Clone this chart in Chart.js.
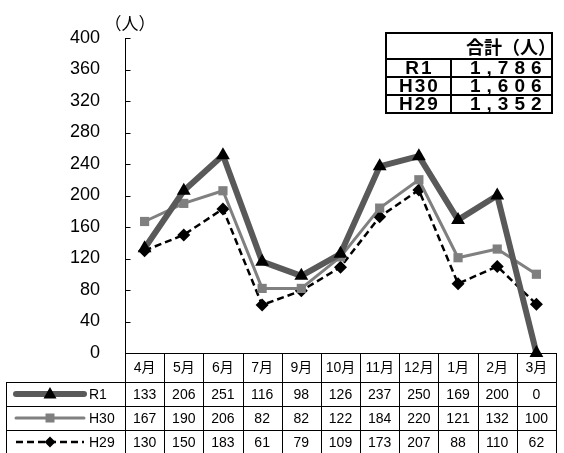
<!DOCTYPE html>
<html>
<head>
<meta charset="utf-8">
<script src="https://cdn.jsdelivr.net/npm/chart.js"></script>
<style>
  body { margin: 0; background: #fff; }
  #wrap { width: 564px; height: 453px; position: relative; }
</style>
</head>
<body>
<div id="wrap"><canvas id="chart"></canvas></div>
<script>
const months = ['4月', '5月', '6月', '7月', '9月', '10月', '11月', '12月', '1月', '2月', '3月']
const r1 = [133, 206, 251, 116, 98, 126, 237, 250, 169, 200, 0]
const h30 = [167, 190, 206, 82, 82, 122, 184, 220, 121, 132, 100]
const h29 = [130, 150, 183, 61, 79, 109, 173, 207, 88, 110, 62]
const yMin = 0
const yMax = 400
const yStep = 40
const unitLabel = '（人）'
const totalHeader = '合計（人）'
const totalNames = ['R1', 'H30', 'H29']
const totalValues = ['1,786', '1,606', '1,352']

const LATIN = "'Liberation Sans', Arial, 'Noto Sans CJK JP', sans-serif"
const CJK = "'Noto Sans CJK JP', 'Liberation Sans', sans-serif"

const series = [
  { label: 'R1', data: r1, color: '#595959', width: 6, dash: [], marker: 'triangle', markerColor: '#000000' },
  { label: 'H30', data: h30, color: '#808080', width: 3, dash: [], marker: 'rect', markerColor: '#7f7f7f' },
  { label: 'H29', data: h29, color: '#000000', width: 2.5, dash: [7, 4], marker: 'rectRot', markerColor: '#000000' },
]
const markerRadius = { triangle: 8, rect: 6.5, rectRot: 6.5 }

function drawMarker(ctx, style, x, y, color) {
  ctx.save()
  ctx.fillStyle = color
  ctx.beginPath()
  if (style === 'triangle') {
    ctx.moveTo(x, y - 7)
    ctx.lineTo(x + 6.5, y + 4.5)
    ctx.lineTo(x - 6.5, y + 4.5)
  } else if (style === 'rect') {
    ctx.rect(x - 4.5, y - 4.5, 9, 9)
  } else {
    ctx.moveTo(x, y - 5.5)
    ctx.lineTo(x + 5.5, y)
    ctx.lineTo(x, y + 5.5)
    ctx.lineTo(x - 5.5, y)
  }
  ctx.closePath()
  ctx.fill()
  ctx.restore()
}

function hLine(ctx, x1, x2, y, w) {
  ctx.lineWidth = w || 1
  ctx.beginPath()
  ctx.moveTo(x1, y)
  ctx.lineTo(x2, y)
  ctx.stroke()
}
function vLine(ctx, x, y1, y2, w) {
  ctx.lineWidth = w || 1
  ctx.beginPath()
  ctx.moveTo(x, y1)
  ctx.lineTo(x, y2)
  ctx.stroke()
}

const tablePlugin = {
  id: 'tablePlugin',
  beforeDatasetsDraw(chart) {
    const ctx = chart.ctx
    const area = chart.chartArea
    const ys = chart.scales.y
    const xs = chart.scales.x
    const colW = (area.right - area.left) / months.length
    const rowLines = [area.bottom, 382, 406, 430, 454]
    const tableLeft = 6

    ctx.save()
    ctx.strokeStyle = '#000'
    ctx.setLineDash([])

    // y axis and inner tick marks
    const ax = Math.round(area.left) + 0.5
    vLine(ctx, ax, area.top, area.bottom)
    for (let v = yMin; v <= yMax; v += yStep) {
      const y = Math.round(ys.getPixelForValue(v)) + 0.5
      hLine(ctx, ax, ax + 5, y)
    }

    // data table grid
    hLine(ctx, area.left, area.right, Math.round(rowLines[0]) + 0.5)
    for (let r = 1; r < rowLines.length - 1; r++) {
      hLine(ctx, tableLeft, area.right, rowLines[r] + 0.5)
    }
    for (let i = 0; i <= months.length; i++) {
      const x = Math.round(area.left + i * colW) + 0.5
      vLine(ctx, x, area.bottom, 453)
    }
    vLine(ctx, tableLeft + 0.5, rowLines[1], 453)

    // month header
    ctx.fillStyle = '#000'
    ctx.textAlign = 'center'
    ctx.textBaseline = 'middle'
    ctx.font = '14px ' + LATIN
    months.forEach((m, i) => {
      ctx.fillText(m, xs.getPixelForValue(i), (rowLines[0] + rowLines[1]) / 2 + 1)
    })

    // series rows
    series.forEach((s, r) => {
      const cy = (rowLines[r + 1] + rowLines[r + 2]) / 2 + 1
      ctx.font = '14px ' + LATIN
      ctx.textAlign = 'center'
      s.data.forEach((v, i) => {
        ctx.fillText(String(v), xs.getPixelForValue(i), cy)
      })
      // legend key
      ctx.save()
      ctx.strokeStyle = s.color
      ctx.lineWidth = s.width
      ctx.lineCap = s.dash.length ? 'butt' : 'round'
      ctx.setLineDash(s.dash)
      ctx.beginPath()
      ctx.moveTo(16, cy - 1)
      ctx.lineTo(84, cy - 1)
      ctx.stroke()
      ctx.restore()
      drawMarker(ctx, s.marker, 50, cy - 1, s.markerColor)
      ctx.textAlign = 'left'
      ctx.fillText(s.label, 89, cy)
    })

    // unit label
    ctx.font = '17px ' + CJK
    ctx.textAlign = 'center'
    ctx.fillText(unitLabel, 130, 24)

    // totals box
    const bx1 = 386, bx2 = 552, bmid = 451
    const brows = [33, 59, 77, 95, 113]
    ctx.lineWidth = 2
    ctx.strokeRect(bx1, brows[0], bx2 - bx1, brows[4] - brows[0])
    for (let r = 1; r < 4; r++) hLine(ctx, bx1, bx2, brows[r], 2)
    vLine(ctx, bmid, brows[1], brows[4], 2)

    ctx.font = 'bold 18px ' + CJK
    ctx.textAlign = 'right'
    ctx.fillText(totalHeader, 556, (brows[0] + brows[1]) / 2 + 1)

    totalNames.forEach((n, r) => {
      const cy = (brows[r + 1] + brows[r + 2]) / 2 + 1
      ctx.font = 'bold 19px ' + LATIN
      ctx.letterSpacing = '2px'
      ctx.textAlign = 'center'
      ctx.fillText(n, (bx1 + bmid) / 2 + 1, cy)
      ctx.letterSpacing = '6px'
      ctx.textAlign = 'left'
      ctx.fillText(totalValues[r], 470, cy)
      ctx.letterSpacing = '0px'
    })
    ctx.restore()
  }
}

const chart = new Chart(document.getElementById('chart'), {
  type: 'line',
  data: {
    labels: months,
    datasets: series.map(s => ({
      label: s.label,
      data: s.data,
      borderColor: s.color,
      borderWidth: s.width,
      borderDash: s.dash,
      borderJoinStyle: 'round',
      pointStyle: s.marker,
      pointRadius: markerRadius[s.marker],
      pointBackgroundColor: s.markerColor,
      pointBorderColor: s.markerColor,
      pointBorderWidth: 0,
      tension: 0,
      clip: false,
    }))
  },
  options: {
    responsive: true,
    maintainAspectRatio: false,
    animation: false,
    events: [],
    layout: { padding: { top: 38, bottom: 100, left: 0, right: 2 } },
    scales: {
      x: {
        type: 'category',
        offset: true,
        display: false,
      },
      y: {
        min: yMin,
        max: yMax,
        afterFit(scale) { scale.width = 125 },
        grid: { display: false, drawTicks: false, tickLength: 0 },
        border: { display: false },
        ticks: {
          stepSize: yStep,
          padding: 25,
          color: '#000',
          font: { family: LATIN, size: 18 },
        },
      },
    },
    plugins: {
      legend: { display: false },
      tooltip: { enabled: false },
    },
  },
  plugins: [tablePlugin],
})
</script>
</body>
</html>
